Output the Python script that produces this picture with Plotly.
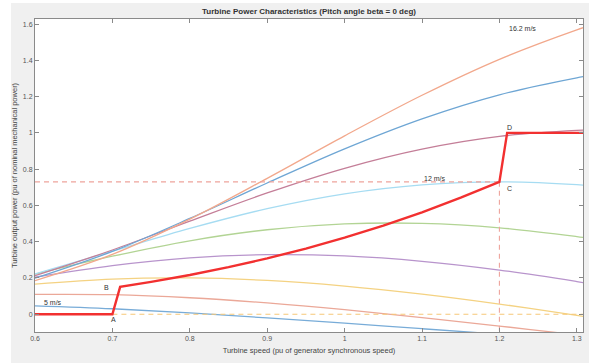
import plotly.graph_objects as go

# ---- data ----
speed = [0.6, 0.7, 0.8, 0.9, 1.0, 1.1, 1.2, 1.3, 1.31]

wind_labels = ["5 m/s", "6.4 m/s", "7.8 m/s", "9.2 m/s", "10.6 m/s",
               "12 m/s", "13.4 m/s", "14.8 m/s", "16.2 m/s"]
p_5 = [0.0466, 0.0303, 0.0071, -0.0201, -0.0496, -0.0799, -0.1101, -0.1399, -0.1428]
p_6_4 = [0.1094, 0.1078, 0.0909, 0.0621, 0.0249, -0.0183, -0.0651, -0.1138, -0.1188]
p_7_8 = [0.1658, 0.1937, 0.2001, 0.1863, 0.1554, 0.1110, 0.0561, -0.0061, -0.0127]
p_9_2 = [0.2038, 0.2679, 0.3108, 0.3285, 0.3213, 0.2920, 0.2438, 0.1803, 0.1732]
p_10_6 = [0.2211, 0.3199, 0.4050, 0.4659, 0.4980, 0.5009, 0.4767, 0.4284, 0.4224]
p_12 = [0.2219, 0.3475, 0.4732, 0.5822, 0.6641, 0.7137, 0.7298, 0.7145, 0.7112]
p_13_4 = [0.2125, 0.3542, 0.5134, 0.6688, 0.8047, 0.9104, 0.9806, 1.0136, 1.0149]
p_14_8 = [0.1988, 0.3464, 0.5283, 0.7238, 0.9119, 1.0774, 1.2101, 1.3039, 1.3111]
p_16_2 = [0.1854, 0.3301, 0.5244, 0.7495, 0.9837, 1.2074, 1.4057, 1.5681, 1.5821]
curves = [p_5, p_6_4, p_7_8, p_9_2, p_10_6, p_12, p_13_4, p_14_8, p_16_2]

# operating (tracking) characteristic A-B-C-D
op_speed = [0.6, 0.7, 0.71, 0.75, 0.8, 0.85, 0.9, 0.95, 1.0, 1.05, 1.1, 1.15, 1.2, 1.21, 1.31]
op_power = [0.0, 0.0, 0.1512, 0.1782, 0.2163, 0.2594, 0.3080, 0.3622, 0.4225, 0.4890,
            0.5623, 0.6425, 0.73, 1.0, 1.0]

# reference lines
ref_h_x = [0.6, 1.2]
ref_h_y = [0.73, 0.73]
ref_v_x = [1.2, 1.2]
ref_v_y = [0.73, -0.1]
zero_x = [0.7, 1.31]
zero_y = [0.0, 0.0]

# point labels
pt_names = ["A", "B", "C", "D"]
pt_x = [0.701, 0.693, 1.213, 1.213]
pt_y = [-0.03, 0.15, 0.695, 1.03]

curve_colors = ["#78acd8", "#eba898", "#f4d282", "#b894cc", "#b2d494",
                "#a6dcf2", "#c47e98", "#6ea6d4", "#f2a88c"]

FONT = "Liberation Sans, Arial, sans-serif"

fig = go.Figure()

for lab, ys, col in zip(wind_labels, curves, curve_colors):
    fig.add_trace(go.Scatter(x=speed, y=ys, mode="lines", name=lab,
                             line=dict(color=col, width=1.3, shape="spline"),
                             hoverinfo="skip"))

fig.add_trace(go.Scatter(x=ref_h_x, y=ref_h_y, mode="lines",
                         line=dict(color="#eea49c", width=1.1, dash="5px,4px")))
fig.add_trace(go.Scatter(x=ref_v_x, y=ref_v_y, mode="lines",
                         line=dict(color="#eea49c", width=1.1, dash="5px,4px")))
fig.add_trace(go.Scatter(x=zero_x, y=zero_y, mode="lines",
                         line=dict(color="#f6c878", width=1.1, dash="5px,4px")))

fig.add_trace(go.Scatter(x=op_speed, y=op_power, mode="lines",
                         line=dict(color="#f23030", width=2.4)))

ann_font = dict(family=FONT, size=7, color="#333333")
annotations = []
for n, xx, yy in zip(pt_names, pt_x, pt_y):
    annotations.append(dict(x=xx, y=yy, xref="x", yref="y", text=n, showarrow=False,
                            xanchor="center", yanchor="middle", font=ann_font))
annotations.append(dict(x=1.21, y=1.578, xref="x", yref="y", text="16.2 m/s",
                        showarrow=False, xanchor="left", yanchor="middle", font=ann_font))
annotations.append(dict(x=1.1, y=0.748, xref="x", yref="y", text="12 m/s",
                        showarrow=False, xanchor="left", yanchor="middle", font=ann_font))
annotations.append(dict(x=0.609, y=0.063, xref="x", yref="y", text="5 m/s",
                        showarrow=False, xanchor="left", yanchor="middle", font=ann_font))

axis_common = dict(showgrid=False, zeroline=False, showline=True, linecolor="#8a8a8a",
                   linewidth=1, mirror="allticks", ticks="inside", ticklen=4,
                   automargin=False,
                   tickcolor="#8a8a8a", tickfont=dict(family=FONT, size=7, color="#555555"))

fig.update_layout(
    width=589, height=363,
    margin=dict(l=35, r=6, t=19, b=31),
    paper_bgcolor="#f0f0f0", plot_bgcolor="#ffffff",
    showlegend=False,
    title=dict(text="<b>Turbine Power Characteristics (Pitch angle beta = 0 deg)</b>",
               x=(309) / 589, xanchor="center", y=1 - 11 / 363, yanchor="middle",
               automargin=False,
               font=dict(family=FONT, size=8, color="#333333")),
    xaxis=dict(range=[0.6, 1.308], tickvals=[0.6, 0.7, 0.8, 0.9, 1.0, 1.1, 1.2, 1.3],
               title=dict(text="Turbine speed (pu of generator synchronous speed)",
                          font=dict(family=FONT, size=7.5, color="#444444"), standoff=6),
               **axis_common),
    yaxis=dict(range=[-0.098, 1.628], tickvals=[0, 0.2, 0.4, 0.6, 0.8, 1.0, 1.2, 1.4, 1.6],
               title=dict(text="Turbine output power (pu of nominal mechanical power)",
                          font=dict(family=FONT, size=7.5, color="#444444"), standoff=4),
               **axis_common),
    annotations=annotations,
    shapes=[
        dict(type="rect", xref="paper", yref="paper", x0=(0 - 35) / 548, x1=(11 - 35) / 548,
             y0=-0.2, y1=1.2, fillcolor="#ffffff", line=dict(width=0), layer="below"),
        dict(type="rect", xref="paper", yref="paper", x0=-0.2, x1=1.2,
             y0=(332 - 3) / 313, y1=(332 + 10) / 313 + 1, fillcolor="#ffffff",
             line=dict(width=0), layer="below"),
    ],
)

fig.write_html("out.html", config={"displayModeBar": False},
               post_script="document.body.style.margin='0px';document.body.style.overflow='hidden';")
